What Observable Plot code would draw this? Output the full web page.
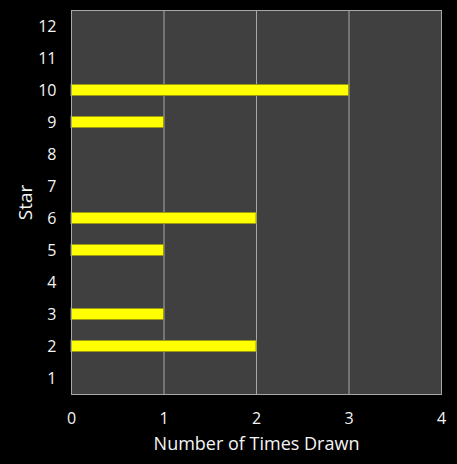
<!DOCTYPE html>
<html>
<head>
<meta charset="utf-8">
<script src="https://cdn.jsdelivr.net/npm/d3@7"></script>
<script src="https://cdn.jsdelivr.net/npm/@observablehq/plot@0.6"></script>
<style>
  html, body { margin: 0; padding: 0; background: #000; }
  #chart svg { display: block; }
</style>
</head>
<body>
<div id="chart"></div>
<script>
const stars = ["1","2","3","4","5","6","7","8","9","10","11","12"];
const counts = [0, 2, 1, 0, 1, 2, 0, 0, 1, 3, 0, 0];
const xTicks = [0, 1, 2, 3, 4];

const data = stars.map((s, i) => ({star: s, count: counts[i]})).filter(d => d.count > 0);

const chart = Plot.plot({
  width: 457,
  height: 464,
  marginLeft: 71,
  marginRight: 16,
  marginTop: 10,
  marginBottom: 70,
  style: {background: "#000", color: "#f4f4f4", fontFamily: "'Open Sans', 'DejaVu Sans', sans-serif", fontSize: "16px"},
  x: {domain: [0, 4], ticks: xTicks, tickFormat: "d", label: "Number of Times Drawn", labelAnchor: "center", labelOffset: 55, tickSize: 0, tickPadding: 18, grid: false},
  y: {domain: stars.slice().reverse(), label: "Star", labelAnchor: "center", labelOffset: 53, tickSize: 0, tickPadding: 15, paddingInner: 0.625, paddingOuter: 0.3125, round: false},
  marks: [
    Plot.frame({fill: "#404040"}),
    Plot.ruleX(xTicks.slice(1, -1), {stroke: "#a8a8a8", strokeWidth: 1}),
    Plot.barX(data, {y: "star", x: "count", fill: "#ffff00", stroke: "#9a9a10", strokeWidth: 1, insetTop: 0.5, insetBottom: 0.5}),
    Plot.frame({stroke: "#a8a8a8", strokeWidth: 1})
  ]
});
chart.querySelectorAll("[aria-label='x-axis label'] text, [aria-label='y-axis label'] text").forEach(t => {
  t.style.fontSize = "18px";
  t.textContent = t.textContent.replace(/[\s→↑←↓]+$/, "").replace(/^[↑→←↓\s]+/, "");
});
chart.querySelectorAll("[aria-label='y-axis label'] text").forEach(t => { t.style.fontSize = "19px"; });
chart.querySelectorAll("[aria-label='x-axis tick label'] text, [aria-label='y-axis tick label'] text").forEach(t => {
  t.style.fontSize = "16px";
});
document.getElementById("chart").append(chart);
</script>
</body>
</html>
